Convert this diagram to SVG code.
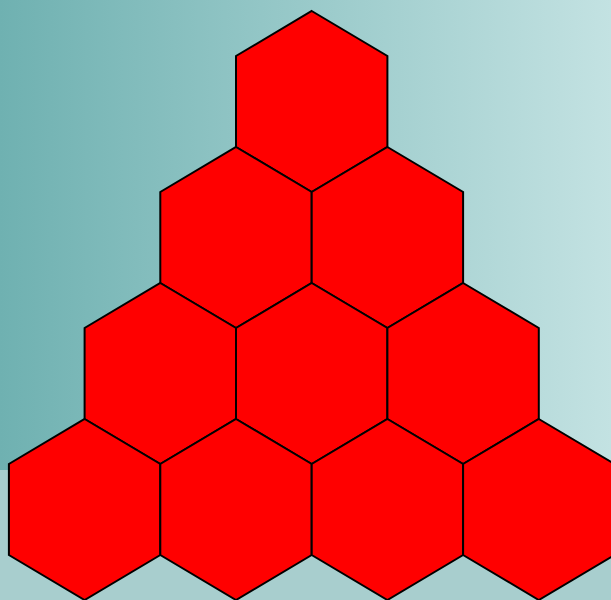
<svg xmlns="http://www.w3.org/2000/svg" width="611" height="600" viewBox="0 0 611 600">
  <defs>
    <linearGradient id="bg" x1="0" y1="0" x2="1" y2="0">
      <stop offset="0" stop-color="#6fb1b1"/>
      <stop offset="1" stop-color="#c3e2e2"/>
    </linearGradient>
    <polygon id="hex" points="0,0 75.7,45 75.7,136 0,181 -75.7,136 -75.7,45"/>
  </defs>
  <style>
    .hex { fill: #ff0000; stroke: #000000; stroke-width: 2; stroke-linejoin: miter; }
  </style>
  <rect x="0" y="0" width="611" height="600" fill="#a8cece"/>
  <rect x="0" y="0" width="611" height="470" fill="url(#bg)"/>
  <g id="hex-r1-1"><use href="#hex" class="hex" x="311.7" y="11"/></g>
  <g id="hex-r2-1"><use href="#hex" class="hex" x="236" y="147"/></g>
  <g id="hex-r2-2"><use href="#hex" class="hex" x="387.4" y="147"/></g>
  <g id="hex-r3-1"><use href="#hex" class="hex" x="160.3" y="283"/></g>
  <g id="hex-r3-2"><use href="#hex" class="hex" x="311.7" y="283"/></g>
  <g id="hex-r3-3"><use href="#hex" class="hex" x="463.1" y="283"/></g>
  <g id="hex-r4-1"><use href="#hex" class="hex" x="84.6" y="419"/></g>
  <g id="hex-r4-2"><use href="#hex" class="hex" x="236" y="419"/></g>
  <g id="hex-r4-3"><use href="#hex" class="hex" x="387.4" y="419"/></g>
  <g id="hex-r4-4"><use href="#hex" class="hex" x="538.8" y="419"/></g>
  <g id="connectors"></g>
</svg>
